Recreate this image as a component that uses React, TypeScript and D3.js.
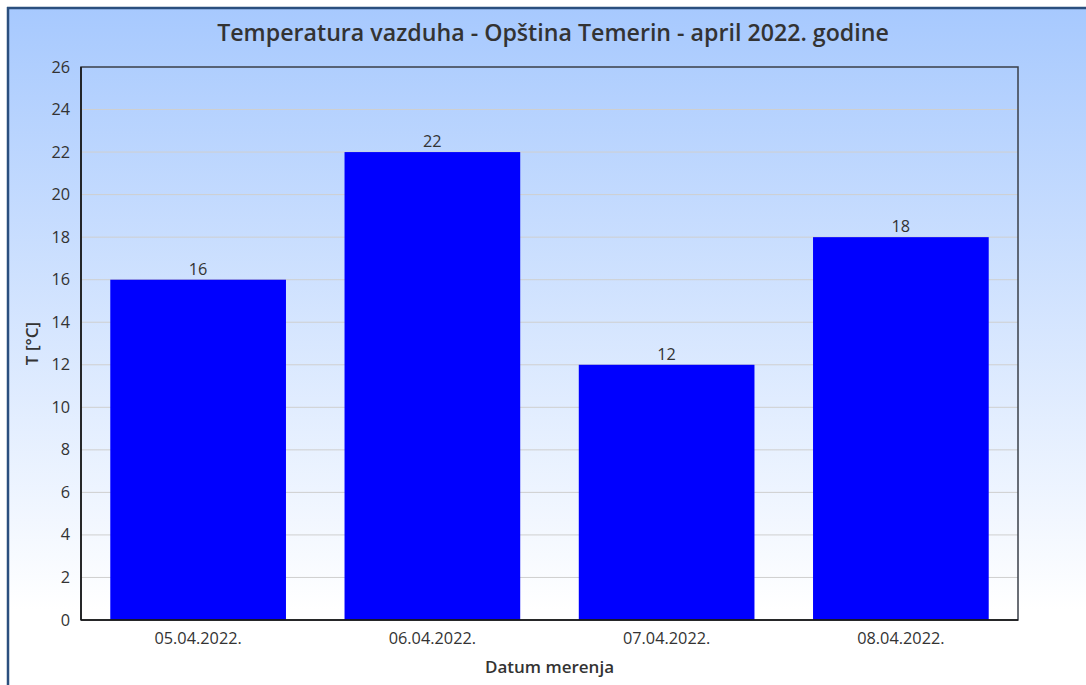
import React from "react";
import * as d3 from "d3";

const title = "Temperatura vazduha - Opština Temerin - april 2022. godine";
const categories = ["05.04.2022.", "06.04.2022.", "07.04.2022.", "08.04.2022."];
const values = [16, 22, 12, 18];
const yTicks = [0, 2, 4, 6, 8, 10, 12, 14, 16, 18, 20, 22, 24, 26];
const yLabel = "T [°C]";
const xLabel = "Datum merenja";

const W = 1086;
const H = 685;
const plot = { left: 81, top: 67, right: 1018, bottom: 620 };
const font = "'Open Sans', 'Noto Sans', sans-serif";

export default function App() {
  const x = d3
    .scaleBand<string>()
    .domain(categories)
    .range([plot.left, plot.right])
    .paddingInner(0.25)
    .paddingOuter(0.125);
  const y = d3.scaleLinear().domain([0, 26]).range([plot.bottom, plot.top]);

  return (
    <svg
      width={W}
      height={H}
      style={{ position: "absolute", left: 0, top: 0, display: "block" }}
    >
      <defs>
        <linearGradient id="bg" x1="0" y1="9" x2="0" y2="610" gradientUnits="userSpaceOnUse">
          <stop offset="0" stopColor="#a7c9fe" />
          <stop offset="1" stopColor="#ffffff" />
        </linearGradient>
      </defs>
      <rect x={0} y={0} width={W} height={H} fill="#ffffff" />
      <rect x={9} y={9} width={W - 9} height={H - 9} fill="url(#bg)" />
      <line x1={8} y1={7} x2={8} y2={H} stroke="#2b4f7e" strokeWidth={2.5} />
      <line x1={7} y1={8} x2={W} y2={8} stroke="#2b4f7e" strokeWidth={2.5} />

      <text
        x={553}
        y={41}
        textAnchor="middle"
        fontFamily={font}
        fontWeight={600}
        fontSize={23.2}
        fill="#333"
      >
        {title}
      </text>

      {yTicks.map((t) => (
        <g key={t}>
          {t > 0 && t < 26 && (
            <line
              x1={plot.left}
              x2={plot.right}
              y1={y(t)}
              y2={y(t)}
              stroke="#cfcfcf"
              strokeWidth={1}
            />
          )}
          <text
            x={plot.left - 11}
            y={y(t) + 5.5}
            textAnchor="end"
            fontFamily={font}
            fontSize={16.3}
            fill="#333"
          >
            {t}
          </text>
        </g>
      ))}

      {categories.map((c, i) => (
        <g key={c}>
          <rect
            x={x(c)!}
            y={y(values[i])}
            width={x.bandwidth()}
            height={y(0) - y(values[i])}
            fill="#0000ff"
          />
          <text
            x={x(c)! + x.bandwidth() / 2}
            y={y(values[i]) - 5}
            textAnchor="middle"
            fontFamily={font}
            fontSize={16.3}
            fill="#333"
          >
            {values[i]}
          </text>
          <text
            x={x(c)! + x.bandwidth() / 2}
            y={plot.bottom + 24}
            textAnchor="middle"
            fontFamily={font}
            fontSize={16.3}
            fill="#333"
          >
            {c}
          </text>
        </g>
      ))}

      <rect
        x={plot.left}
        y={plot.top}
        width={plot.right - plot.left}
        height={plot.bottom - plot.top}
        fill="none"
        stroke="#3a3f48"
        strokeWidth={1.5}
      />
      <line x1={plot.left} x2={plot.left} y1={plot.top} y2={plot.bottom} stroke="#111" strokeWidth={1.5} />
      <line x1={plot.left} x2={plot.right} y1={plot.bottom} y2={plot.bottom} stroke="#111" strokeWidth={1.5} />

      <text
        transform={`translate(38, ${(plot.top + plot.bottom) / 2}) rotate(-90)`}
        textAnchor="middle"
        fontFamily={font}
        fontWeight={600}
        fontSize={17}
        fill="#333"
      >
        {yLabel}
      </text>
      <text
        x={(plot.left + plot.right) / 2}
        y={673}
        textAnchor="middle"
        fontFamily={font}
        fontWeight={600}
        fontSize={17}
        fill="#333"
      >
        {xLabel}
      </text>
    </svg>
  );
}
